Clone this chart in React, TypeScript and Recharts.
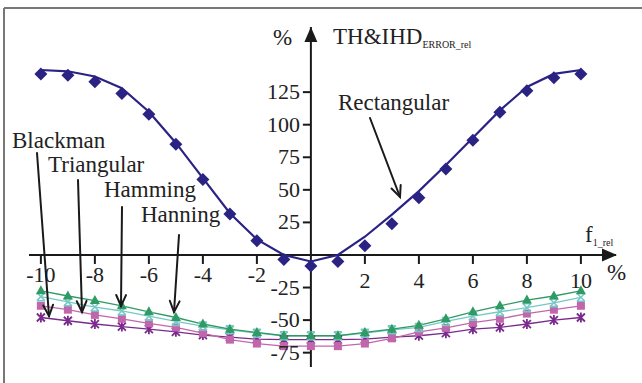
import { LineChart, Line, XAxis, YAxis, ReferenceLine } from 'recharts';

// f1_rel (%)
const X_VALUES = [-10, -9, -8, -7, -6, -5, -4, -3, -2, -1, 0, 1, 2, 3, 4, 5, 6, 7, 8, 9, 10];

// Rectangular window: simulated curve and measured points (diamonds)
const RECT_CURVE = [142, 141, 137, 128, 110, 86, 59, 32, 12, 0, -5, 0, 14, 31, 49, 69, 90, 111, 129, 139, 142];
const RECT_MEASURED = [139, 138, 133, 124, 108, 85, 58, 31.5, 11, -3.5, -8.5, -5, 7, 24, 44, 66, 88, 109.5, 126, 136, 139];

// lower group
const HAMMING = [-27.5, -31.5, -35, -39, -43.6, -48, -53, -57, -59.5, -62, -62, -62, -59.5, -57, -54, -49, -43.6, -39, -34.6, -31.5, -27.5];
const HANNING = [-32, -36, -40, -43, -47, -51, -54.6, -57.5, -60, -62, -62, -62, -60, -57.5, -55.6, -51, -47, -43.6, -40.5, -36.7, -32.5];
const TRIANGULAR = [-39, -42, -46, -49, -52.5, -55.6, -60, -65, -68, -70, -70, -70, -68, -64, -59, -56, -52, -49, -45, -42, -39];
const BLACKMAN = [-48, -50.5, -53, -55, -57, -59, -61.5, -63, -64.6, -65, -65, -65, -64.6, -63, -62, -60, -57, -55.6, -53, -50, -48];

const X_TICKS = [-10, -8, -6, -4, -2, 2, 4, 6, 8, 10];
const Y_TICKS = [-75, -50, -25, 25, 50, 75, 100, 125];

const data = X_VALUES.map((x, i) => ({
  x,
  rect: RECT_CURVE[i],
  rectPts: RECT_MEASURED[i],
  hamming: HAMMING[i],
  hanning: HANNING[i],
  triangular: TRIANGULAR[i],
  blackman: BLACKMAN[i],
}));

const W = 642;
const H = 383;
const MARGIN = { top: 27, right: 26, bottom: 15, left: 28 };
const AXIS_SIZE = 1;
const X_DOMAIN: [number, number] = [-10.44, 11.3];
const Y_DOMAIN: [number, number] = [-86, 175];
const PLOT_LEFT = MARGIN.left + AXIS_SIZE;
const PLOT_W = W - PLOT_LEFT - MARGIN.right;
const PLOT_H = H - MARGIN.top - MARGIN.bottom - AXIS_SIZE;
// where the axes cross (pixel of x=0 / y=0)
const X0 = PLOT_LEFT + ((0 - X_DOMAIN[0]) / (X_DOMAIN[1] - X_DOMAIN[0])) * PLOT_W;
const Y0 = MARGIN.top + ((Y_DOMAIN[1] - 0) / (Y_DOMAIN[1] - Y_DOMAIN[0])) * PLOT_H;

const FONT = '"Liberation Serif", "Times New Roman", serif';
const INK = '#1a1a1a';

const NAVY = '#2b2383';
const GREEN = '#2f9a63';
const CYAN = '#74c9c6';
const PINK = '#c266ac';
const PURPLE = '#7a2a8c';

const renderXTick = (props: any) => {
  const { x, payload } = props;
  const v = payload.value;
  return (
    <g key={`xt-${v}`}>
      <line x1={x} x2={x} y1={Y0} y2={Y0 + 9} stroke={INK} strokeWidth={2} />
      <text x={x} y={v < 0 ? Y0 + 27 : Y0 + 33} textAnchor="middle" fontSize={22} fontFamily={FONT} fill="#222">
        {v}
      </text>
    </g>
  );
};

const renderYTick = (props: any) => {
  const { y, payload } = props;
  return (
    <g key={`yt-${payload.value}`}>
      <line x1={X0 - 8} x2={X0} y1={y} y2={y} stroke={INK} strokeWidth={2} />
      <text x={X0 - 11} y={y + 7} textAnchor="end" fontSize={22} fontFamily={FONT} fill="#222">
        {payload.value}
      </text>
    </g>
  );
};

const Diamond = ({ cx, cy }: any) => (
  <path d={`M${cx},${cy - 6.5}L${cx + 6.5},${cy}L${cx},${cy + 6.5}L${cx - 6.5},${cy}Z`} fill={NAVY} />
);
const Tri = ({ cx, cy }: any) => (
  <path d={`M${cx},${cy - 5.5}L${cx + 5},${cy + 3.5}L${cx - 5},${cy + 3.5}Z`} fill={GREEN} />
);
const Square = ({ cx, cy }: any) => <rect x={cx - 4} y={cy - 4} width={8} height={8} fill={PINK} />;
const Cross = ({ cx, cy }: any) => (
  <path
    d={`M${cx - 4},${cy - 4}L${cx + 4},${cy + 4}M${cx + 4},${cy - 4}L${cx - 4},${cy + 4}M${cx - 4},${cy - 4}L${cx + 4},${cy - 4}M${cx - 4},${cy + 4}L${cx + 4},${cy + 4}`}
    stroke={CYAN}
    strokeWidth={1.5}
    fill="none"
  />
);
const Star = ({ cx, cy }: any) => (
  <path
    d={`M${cx - 4},${cy - 4}L${cx + 4},${cy + 4}M${cx + 4},${cy - 4}L${cx - 4},${cy + 4}M${cx},${cy - 5}L${cx},${cy + 5}`}
    stroke={PURPLE}
    strokeWidth={1.8}
    fill="none"
  />
);

// open arrow used for the window labels
const Arrow = ({ x1, y1, x2, y2 }: { x1: number; y1: number; x2: number; y2: number }) => {
  const a = Math.atan2(y2 - y1, x2 - x1);
  const len = 12;
  const spread = 0.42;
  const h1x = x2 - len * Math.cos(a - spread);
  const h1y = y2 - len * Math.sin(a - spread);
  const h2x = x2 - len * Math.cos(a + spread);
  const h2y = y2 - len * Math.sin(a + spread);
  return (
    <g stroke={INK} strokeWidth={2} fill="none" strokeLinecap="round">
      <line x1={x1} y1={y1} x2={x2} y2={y2} />
      <polyline points={`${h1x},${h1y} ${x2},${y2} ${h2x},${h2y}`} />
    </g>
  );
};

const labelStyle = { fontSize: 23, fontFamily: FONT, fill: '#222' };

export default function App() {
  return (
    <div style={{ position: 'absolute', left: 0, top: 0, width: W, height: H, background: '#fff' }}>
      <LineChart width={W} height={H} data={data} margin={MARGIN}>
        <XAxis
          type="number"
          dataKey="x"
          domain={X_DOMAIN}
          allowDataOverflow
          ticks={X_TICKS}
          height={AXIS_SIZE}
          axisLine={false}
          tickLine={false}
          tick={renderXTick}
          interval={0}
        />
        <YAxis
          type="number"
          domain={Y_DOMAIN}
          allowDataOverflow
          ticks={Y_TICKS}
          width={AXIS_SIZE}
          axisLine={false}
          tickLine={false}
          tick={renderYTick}
          interval={0}
        />
        <ReferenceLine x={0} stroke={INK} strokeWidth={2} />
        <ReferenceLine y={0} stroke={INK} strokeWidth={2} />
        <Line dataKey="blackman" stroke={PURPLE} strokeWidth={1.3} dot={<Star />} isAnimationActive={false} />
        <Line dataKey="triangular" stroke={PINK} strokeWidth={1.3} dot={<Square />} isAnimationActive={false} />
        <Line dataKey="hanning" stroke={CYAN} strokeWidth={1.3} dot={<Cross />} isAnimationActive={false} />
        <Line dataKey="hamming" stroke={GREEN} strokeWidth={1.3} dot={<Tri />} isAnimationActive={false} />
        <Line dataKey="rect" stroke={NAVY} strokeWidth={2.2} dot={false} isAnimationActive={false} />
        <Line dataKey="rectPts" stroke="none" strokeWidth={0} dot={<Diamond />} isAnimationActive={false} />
      </LineChart>

      <svg width={W} height={H} style={{ position: 'absolute', left: 0, top: 0, pointerEvents: 'none' }}>
        {/* frame */}
        <line x1={4} y1={8} x2={W} y2={8} stroke="#777" strokeWidth={2} />
        <line x1={4} y1={8} x2={4} y2={H} stroke="#777" strokeWidth={2} />

        {/* axis arrow heads */}
        <path d={`M${X0},${MARGIN.top}L${X0 + 6.5},${MARGIN.top + 15}L${X0 - 6.5},${MARGIN.top + 15}Z`} fill={INK} />
        <path d={`M${W - MARGIN.right + 1},${Y0}L${W - MARGIN.right - 14},${Y0 - 6.5}L${W - MARGIN.right - 14},${Y0 + 6.5}Z`} fill={INK} />

        {/* axis titles */}
        <text x={273} y={45} {...labelStyle}>%</text>
        <text x={333} y={44} {...labelStyle}>
          TH&amp;IHD
          <tspan fontSize={10} dy={4}>ERROR_rel</tspan>
        </text>
        <text x={585} y={242} {...labelStyle}>
          f
          <tspan fontSize={10} dy={4}>1_rel</tspan>
        </text>
        <text x={607} y={280} {...labelStyle}>%</text>

        {/* window labels */}
        <text x={338} y={110} {...labelStyle}>Rectangular</text>
        <Arrow x1={370} y1={118} x2={400} y2={197} />

        <text x={12} y={148} {...labelStyle}>Blackman</text>
        <Arrow x1={37} y1={153} x2={49} y2={316} />
        <text x={48} y={172} {...labelStyle}>Triangular</text>
        <Arrow x1={78} y1={180} x2={82} y2={312} />
        <text x={104} y={197} {...labelStyle}>Hamming</text>
        <Arrow x1={122} y1={207} x2={121} y2={306} />
        <text x={141} y={222} {...labelStyle}>Hanning</text>
        <Arrow x1={179} y1={235} x2={174} y2={312} />
      </svg>
    </div>
  );
}
